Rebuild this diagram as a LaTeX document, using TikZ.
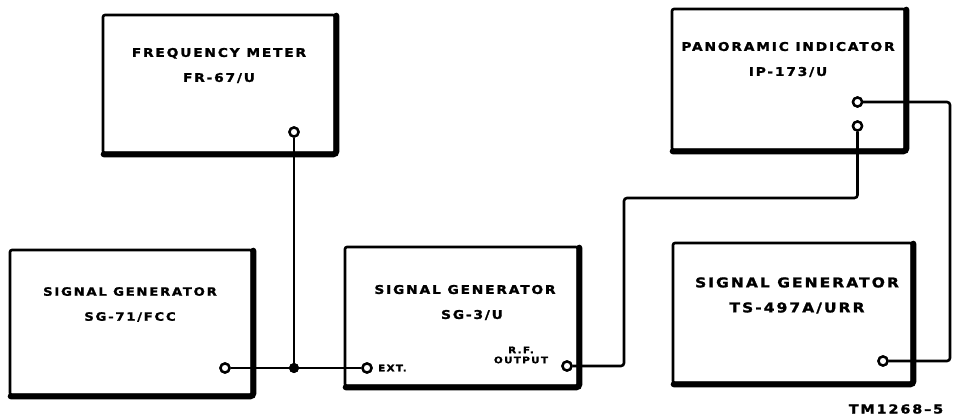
\documentclass[tikz,border=0pt]{standalone}
\usepackage{fontspec}
\newfontfamily\lbl{DejaVu Sans}[UprightFont={* Bold},FakeStretch=1.15,LetterSpace=15,FakeBold=1.5,Ligatures=TeX]
\begin{document}
\begin{tikzpicture}[x=1pt,y=-1pt,
  box/.style={draw, line width=2.6pt, rounded corners=2pt, inner sep=0pt, fill=white},
  shade/.style={line width=6pt, rounded corners=3pt, line cap=round},
  lab/.style={align=center, inner sep=0pt, font={\lbl\fontsize{12}{25}\selectfont}},
  small/.style={align=center, inner sep=0pt, font={\lbl\fontsize{9}{10}\selectfont}},
  term/.style={circle, draw, line width=2.4pt, fill=white, inner sep=0pt, minimum size=9pt},
  jdot/.style={circle, fill, inner sep=0pt, minimum size=10pt},
  wire/.style={line width=2.6pt, rounded corners=3pt}]
\useasboundingbox (0,0) rectangle (953,417);
% boxes
\node[box, minimum width=232pt, minimum height=138pt] (fm) at (219,84) {};
\node[box, minimum width=233pt, minimum height=141pt] (pi) at (788.5,79.5) {};
\node[box, minimum width=242pt, minimum height=145pt] (sg71) at (131,322.5) {};
\node[box, minimum width=233pt, minimum height=139pt] (sg3) at (461.5,316.5) {};
\node[box, minimum width=239pt, minimum height=140pt] (ts) at (792.5,313) {};
\foreach \b in {fm,pi,sg71,sg3,ts}
  \draw[shade] ([yshift=-2pt]\b.north east) -- (\b.south east) -- ([xshift=2pt]\b.south west);
% labels
\node[lab] (fmt) at (219,65.5) {FREQUENCY METER\\FR-67/U};
\node[lab] (pit) at (788,59.5) {PANORAMIC INDICATOR\\IP-173/U};
\node[lab, font={\lbl\fontsize{11.5}{25}\selectfont}] (sg71t) at (130,304.5) {SIGNAL GENERATOR\\SG-71/FCC};
\node[lab] (sg3t) at (465,302.5) {SIGNAL GENERATOR\\\hspace*{14pt}SG-3/U};
\node[lab, font={\lbl\fontsize{13.5}{25}\selectfont}] (tst) at (797,295.5) {SIGNAL GENERATOR\\TS-497A/URR};
\node[small, anchor=west] (ext) at (378,368) {EXT.};
\node[small] (rf) at (521,355) {R.F.\\OUTPUT};
\node[lab, font={\lbl\fontsize{12.5}{14}\selectfont}] (tm) at (896,409) {TM1268–5};
% terminals and junction
\node[term] (t1) at (294,132) {};
\node[term] (t2a) at (857.5,102) {};
\node[term] (t2b) at (857.5,126) {};
\node[term] (t3) at (225,368) {};
\node[term] (t4e) at (367,368) {};
\node[term] (t4r) at (567,366) {};
\node[term] (t5) at (883,361) {};
\node[jdot] (j) at (294,368) {};
\coordinate (c1) at (624,198);
\coordinate (c2) at (950,102);
% wires
\draw[wire] (t1.south) -- (j.center);
\draw[wire] (t3.east) -- (j.center) -- (t4e.west);
\draw[wire] (t4r.east) -| (c1) -| (t2b.south);
\draw[wire] (t2a.east) -- (c2) |- (t5.east);
% redraw terminals on top
\foreach \t in {t1,t2a,t2b,t3,t4e,t4r,t5}
  \draw[line width=2.4pt, fill=white] (\t) circle (4.5pt);
\fill (j) circle (5pt);
\end{tikzpicture}
\end{document}
